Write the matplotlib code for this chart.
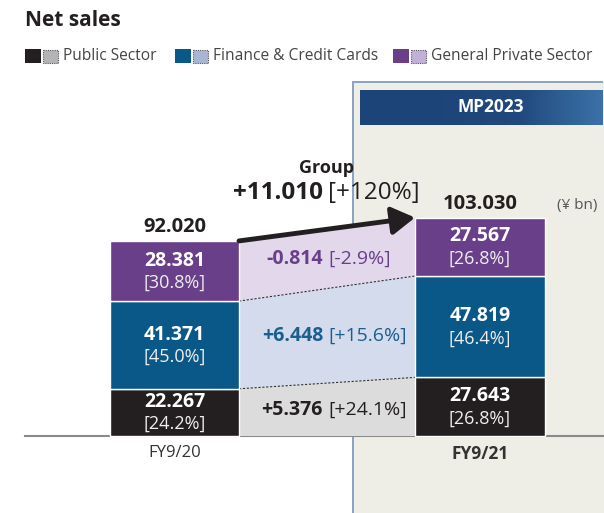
import matplotlib.pyplot as plt
from matplotlib.patches import Rectangle, Polygon
from matplotlib.colors import LinearSegmentedColormap
import numpy as np

plt.rcParams['font.family'] = ['Open Sans', 'DejaVu Sans']

# net sales by segment, ¥ bn
years = ['FY9/20', 'FY9/21']
segments = ['Public Sector', 'Finance & Credit Cards', 'General Private Sector']
fy20 = [22.267, 41.371, 28.381]
fy21 = [27.643, 47.819, 27.567]
totals = [92.020, 103.030]
group_pct_text = '[+120%]'

dark = ['#231f20', '#0a5887', '#6a3f8a']
light = ['#dcdcdd', '#d4dbec', '#e3d7eb']
legend_light = ['#b4b4b6', '#a9b6d3', '#c3b0d8']
delta_color = ['#231f20', '#1b5f8e', '#6a3f8a']

W, H = 604, 513
base_px = 436
px_per_unit = 2.12

fig = plt.figure(figsize=(W / 100, H / 100), dpi=100)

# background layer, laid out in pixels
bg = fig.add_axes([0, 0, 1, 1])
bg.set_xlim(0, W)
bg.set_ylim(H, 0)
bg.axis('off')

# MP2023 plan panel with thin left/top borders
bg.add_patch(Rectangle((353, 82), W - 353, H - 82, facecolor='#efeee6', edgecolor='none', zorder=0))
bg.add_patch(Rectangle((352.2, 81.4), 1.6, H - 81.4, facecolor='#8da3c2', edgecolor='none', zorder=1))
bg.add_patch(Rectangle((352.2, 81.4), W - 1 - 352.2, 1.3, facecolor='#8da3c2', edgecolor='none', zorder=1))

# header band, dark on the left fading to a lighter blue
band = LinearSegmentedColormap.from_list('band', ['#1d4479', '#1f487c', '#3b72a9'])
edges = np.linspace(360, W - 1, 123)
for k in range(len(edges) - 1):
    t = max(0.0, (edges[k] - 430) / (W - 431))
    bg.add_patch(Rectangle((edges[k], 90), edges[k + 1] - edges[k] + 0.4, 35,
                           facecolor=band(t), edgecolor='none', zorder=1))
bg.text(491, 107.5, 'MP2023', color='white', fontsize=12.5, fontweight='bold',
        ha='center', va='center', zorder=2)

bg.text(25, 21, 'Net sales', fontsize=15, fontweight='bold', color='#231f20', ha='left', va='center')

# legend: solid + dotted swatch per segment
leg_x = [25, 175, 393]
for i, name in enumerate(segments):
    x0 = leg_x[i]
    bg.add_patch(Rectangle((x0, 49), 16, 14, facecolor=dark[i], edgecolor='none'))
    bg.add_patch(Rectangle((x0 + 17.5, 49.5), 15, 13, facecolor=legend_light[i],
                           edgecolor='#555555', lw=0.8, linestyle=(0, (1, 1))))
    bg.text(x0 + 38, 56, name, fontsize=11.2, color='#444444', ha='left', va='center')

# data layer
ax = fig.add_axes([0, 0, 1, 1], zorder=2)
ax.patch.set_alpha(0)
ax.set_xlim(0, W)
ax.set_ylim(-(H - base_px) / px_per_unit, base_px / px_per_unit)
ax.axis('off')

bar_x = [110, 415]
bar_w = [129, 130]
centers = [bar_x[0] + bar_w[0] / 2, bar_x[1] + bar_w[1] / 2]
gap_l = bar_x[0] + bar_w[0]
gap_r = bar_x[1]
gap_c = 327

b20 = np.concatenate([[0], np.cumsum(fy20)])
b21 = np.concatenate([[0], np.cumsum(fy21)])

ax.axhline(0, xmin=25 / W, xmax=1, color='#8a8a8a', lw=1.5, zorder=1)

# bridge polygons between the two bars
for i in range(3):
    ax.add_patch(Polygon([(gap_l, b20[i]), (gap_l, b20[i + 1]), (gap_r, b21[i + 1]), (gap_r, b21[i])],
                         closed=True, facecolor=light[i], edgecolor='none', zorder=2))
for i in (1, 2):
    ax.plot([gap_l, gap_r], [b20[i], b21[i]], color='#333333', lw=0.8, linestyle=(0, (2, 1.5)), zorder=3)

# stacked bars
for vals, bottoms, x0, w, c, total in [(fy20, b20, bar_x[0], bar_w[0], centers[0], totals[0]),
                                       (fy21, b21, bar_x[1], bar_w[1], centers[1], totals[1])]:
    for i, v in enumerate(vals):
        ax.bar(x0, v, width=w, bottom=bottoms[i], align='edge', color=dark[i],
               edgecolor='white', lw=1, zorder=4)
        mid = bottoms[i] + v / 2
        ax.annotate(f'{v:.3f}', (c, mid), xytext=(0, 7.5), textcoords='offset points',
                    ha='center', va='center', color='white', fontsize=14, fontweight='bold', zorder=5)
        ax.annotate(f'[{v / total * 100:.1f}%]', (c, mid), xytext=(0, -8.5), textcoords='offset points',
                    ha='center', va='center', color='#eeeeee', fontsize=13, zorder=5)

# segment changes
for i in range(3):
    d = fy21[i] - fy20[i]
    mid = (b20[i] + b20[i + 1] + b21[i] + b21[i + 1]) / 4
    ax.text(gap_c - 4, mid, f'{d:+.3f}', ha='right', va='center', fontsize=14,
            fontweight='bold', color=delta_color[i], zorder=5)
    ax.text(gap_c + 1, mid, f'[{d / fy20[i] * 100:+.1f}%]', ha='left', va='center', fontsize=14,
            color=delta_color[i], zorder=5)

# totals and group arrow
ax.annotate('', xy=(gap_r, totals[1]), xytext=(gap_l, totals[0]),
            arrowprops=dict(arrowstyle='-|>,head_length=0.5,head_width=0.3', lw=3.5,
                            color='#231f20', mutation_scale=28, shrinkA=0, shrinkB=0), zorder=6)
for c, t in zip(centers, totals):
    ax.annotate(f'{t:.3f}', (c, t), xytext=(0, 10), textcoords='offset points',
                ha='center', va='center', fontsize=14.5, fontweight='bold', color='#231f20')
ax.annotate('(¥ bn)', (577, totals[1]), xytext=(0, 9), textcoords='offset points',
            ha='center', va='center', fontsize=11, color='#555555')

diff = totals[1] - totals[0]
ax.annotate('Group', (gap_c, totals[1]), xytext=(0, 36), textcoords='offset points',
            ha='center', va='center', fontsize=13, fontweight='bold', color='#231f20')
ax.annotate(f'{diff:+.3f}', (gap_c - 4, totals[1]), xytext=(0, 18), textcoords='offset points',
            ha='right', va='center', fontsize=17.5, fontweight='bold', color='#231f20')
ax.annotate(group_pct_text, (gap_c + 1, totals[1]), xytext=(0, 18), textcoords='offset points',
            ha='left', va='center', fontsize=17.5, color='#231f20')

# category labels
ax.annotate(years[0], (centers[0], 0), xytext=(0, -12), textcoords='offset points',
            ha='center', va='center', fontsize=12, color='#333333')
ax.annotate(years[1], (centers[1], 0), xytext=(0, -13), textcoords='offset points',
            ha='center', va='center', fontsize=12.5, fontweight='bold', color='#333333')

fig.savefig('out.png', dpi=100)
